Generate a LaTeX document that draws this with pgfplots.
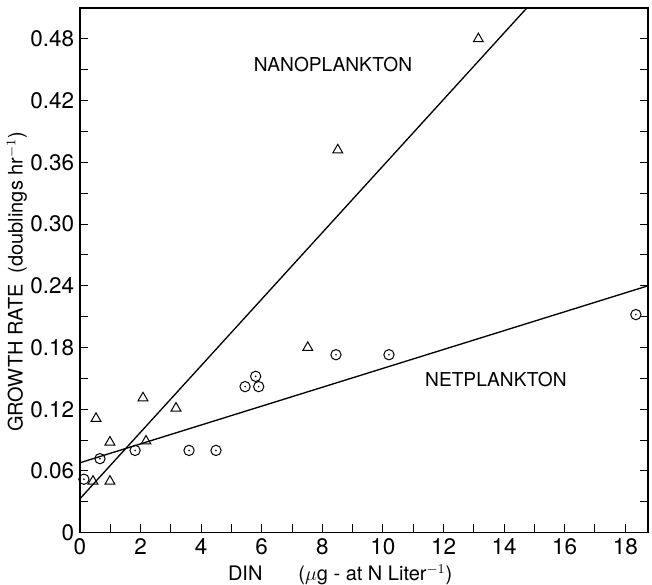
\documentclass[border=0pt]{standalone}
\usepackage{fontspec}
\setmainfont{TeX Gyre Heros}
\usepackage{pgfplots}
\pgfplotsset{compat=1.18}
\pgfdeclareplotmark{odot}{%
  \pgfpathcircle{\pgfpoint{0pt}{0pt}}{\pgfplotmarksize}\pgfusepathqstroke
  \pgfpathcircle{\pgfpoint{0pt}{0pt}}{0.55pt}\pgfusepathqfill}
\begin{document}
\begin{tikzpicture}
\begin{axis}[
  scale only axis,
  width=341pt, height=315pt,
  xmin=0, xmax=18.75, ymin=0, ymax=0.51,
  /pgf/number format/assume math mode=true,
  xtick={0,2,...,18},
  minor xtick={1,3,...,17},
  ytick={0,0.06,0.12,0.18,0.24,0.30,0.36,0.42,0.48},
  yticklabels={0,0.06,0.12,0.18,0.24,0.30,0.36,0.42,0.48},
  minor ytick={0.03,0.09,0.15,0.21,0.27,0.33,0.39,0.45},
  xtick pos=bottom,
  ytick pos=both,
  tick align=inside,
  major tick length=5pt,
  minor tick length=5pt,
  every tick/.style={black, line width=0.6pt},
  axis line style={line width=0.8pt},
  ticklabel style={font=\fontsize{13.5}{14}\selectfont},
  xlabel={DIN\hspace{1.8em}($\mu$g - at N Liter$^{-1}$)},
  ylabel={GROWTH RATE\ \ (doublings hr$^{-1}$)},
  label style={font=\fontsize{12}{13}\selectfont},
  every axis x label/.append style={at={(axis description cs:0.458,-0.08)}, anchor=center},
  every axis y label/.append style={at={(axis description cs:-0.111,0.478)}, anchor=center},
  clip=true,
]
% nanoplankton (triangles)
\addplot[only marks, mark=triangle, mark size=3.4pt, mark options={line width=0.6pt}] coordinates {
  (0.43,0.050) (0.53,0.111) (0.99,0.088) (0.99,0.050) (2.08,0.131)
  (2.18,0.089) (3.17,0.121) (7.52,0.180) (8.51,0.372) (13.15,0.480)
};
% netplankton (circled dots)
\addplot[only marks, mark=odot, mark size=3.1pt, mark options={line width=0.6pt}] coordinates {
  (0.13,0.052) (0.66,0.072) (1.82,0.080) (3.60,0.080) (4.49,0.080)
  (5.45,0.142) (5.80,0.152) (5.90,0.142) (8.45,0.173) (10.2,0.173) (18.35,0.212)
};
% regression lines
\addplot[black, line width=0.8pt] coordinates {(0,0.033) (14.75,0.51)};
\addplot[black, line width=0.8pt] coordinates {(0,0.068) (18.75,0.240)};
\node[font=\fontsize{11.5}{12}\selectfont] at (axis cs:8.35,0.455) {NANOPLANKTON};
\node[font=\fontsize{11.5}{12}\selectfont] at (axis cs:13.73,0.149) {NETPLANKTON};
\end{axis}
\pgfresetboundingbox
\path ([xshift=-48pt,yshift=-31.2pt]current axis.south west) rectangle ([xshift=2.4pt,yshift=4.8pt]current axis.north east);
\end{tikzpicture}
\end{document}
